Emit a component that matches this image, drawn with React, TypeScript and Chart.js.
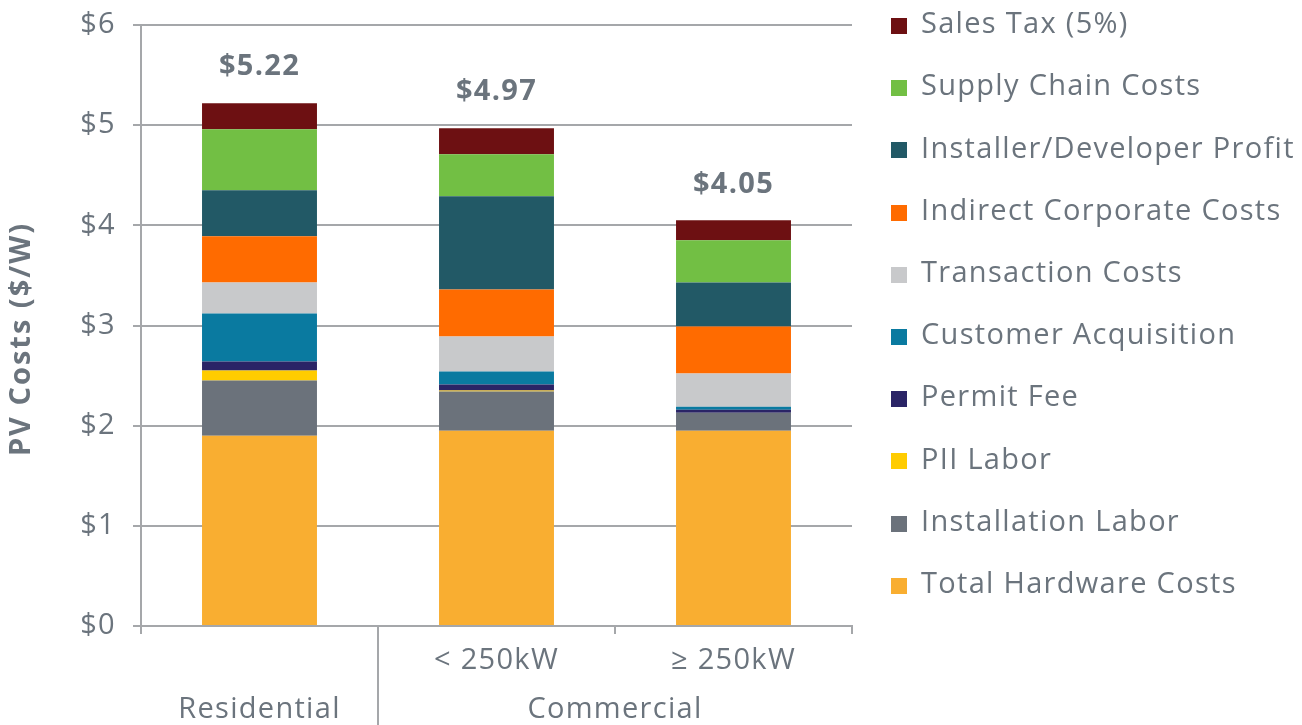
import React, { useEffect, useRef } from "react";
import { Chart, registerables } from "chart.js";

Chart.register(...registerables);

// ---- data ----
const subLabels = ["", "< 250kW", "≥ 250kW"];
const groupNames = ["Residential", "Commercial"];
const groupStart = [0, 1];
const groupEnd = [0, 2];
const yTickValues = [0, 1, 2, 3, 4, 5, 6];

const seriesNames = [
  "Total Hardware Costs",
  "Installation Labor",
  "PII Labor",
  "Permit Fee",
  "Customer Acquisition",
  "Transaction Costs",
  "Indirect Corporate Costs",
  "Installer/Developer Profit",
  "Supply Chain Costs",
  "Sales Tax (5%)",
];
const seriesColors = [
  "#F9AE31",
  "#6B727B",
  "#FFCC00",
  "#2A2466",
  "#0A7AA0",
  "#C8C9CB",
  "#FF6B00",
  "#225966",
  "#72BF44",
  "#6D1012",
];

const hardware = [1.9, 1.95, 1.95];
const installation = [0.55, 0.39, 0.18];
const piiLabor = [0.1, 0.01, 0.0];
const permitFee = [0.09, 0.06, 0.03];
const customerAcq = [0.48, 0.13, 0.03];
const transaction = [0.31, 0.35, 0.33];
const indirect = [0.46, 0.47, 0.47];
const profit = [0.46, 0.93, 0.44];
const supplyChain = [0.61, 0.42, 0.42];
const salesTax = [0.26, 0.26, 0.2];

const seriesValues = [
  hardware,
  installation,
  piiLabor,
  permitFee,
  customerAcq,
  transaction,
  indirect,
  profit,
  supplyChain,
  salesTax,
];

const FONT = "'Open Sans', sans-serif";
const TEXT = "#6B747D";
const GRID = "#A5A7AA";
const SPACING = "1.3px";

const spacingPlugin = {
  id: "spacing",
  beforeDraw(chart: any) {
    (chart.ctx as any).letterSpacing = SPACING;
  },
};

const decorPlugin = {
  id: "decor",
  afterDraw(chart: any) {
    const { ctx, chartArea, scales } = chart;
    const xs = scales.x;
    const ys = scales.y;
    const H = chart.height;
    ctx.save();
    (ctx as any).letterSpacing = SPACING;

    // group separators
    ctx.strokeStyle = GRID;
    ctx.lineWidth = 2;
    for (let g = 0; g < groupNames.length - 1; g++) {
      const xa = xs.getPixelForValue(groupEnd[g]);
      const xb = xs.getPixelForValue(groupStart[g + 1]);
      const x = Math.round((xa + xb) / 2);
      ctx.beginPath();
      ctx.moveTo(x, chartArea.bottom);
      ctx.lineTo(x, H);
      ctx.stroke();
    }

    // group labels
    ctx.fillStyle = TEXT;
    ctx.font = `29px ${FONT}`;
    ctx.textAlign = "center";
    ctx.textBaseline = "middle";
    for (let g = 0; g < groupNames.length; g++) {
      const x = (xs.getPixelForValue(groupStart[g]) + xs.getPixelForValue(groupEnd[g])) / 2;
      ctx.fillText(groupNames[g], x, 710);
    }

    // totals
    ctx.font = `bold 29px ${FONT}`;
    for (let i = 0; i < subLabels.length; i++) {
      let total = 0;
      seriesValues.forEach((s) => (total += s[i]));
      const y = ys.getPixelForValue(total) - 36;
      ctx.fillText("$" + total.toFixed(2), xs.getPixelForValue(i), y);
    }

    // y title
    ctx.save();
    ctx.translate(22, 339);
    ctx.rotate(-Math.PI / 2);
    (ctx as any).letterSpacing = "2px";
    ctx.font = `bold 29px ${FONT}`;
    ctx.fillText("PV Costs ($/W)", 0, 0);
    ctx.restore();

    // legend (reversed)
    ctx.textAlign = "left";
    ctx.font = `29px ${FONT}`;
    const n = seriesNames.length;
    for (let k = 0; k < n; k++) {
      const idx = n - 1 - k;
      const cy = 26 + k * 62.2;
      ctx.fillStyle = seriesColors[idx];
      ctx.fillRect(891, Math.round(cy - 8), 16, 16);
      ctx.fillStyle = TEXT;
      ctx.fillText(seriesNames[idx], 921, cy - 1);
    }
    ctx.restore();
  },
};

export default function App() {
  const ref = useRef<HTMLCanvasElement>(null);
  useEffect(() => {
    if (!ref.current) return;
    const chart = new Chart(ref.current, {
      type: "bar",
      data: {
        labels: subLabels,
        datasets: seriesNames.map((name, i) => ({
          label: name,
          data: seriesValues[i],
          backgroundColor: seriesColors[i],
          borderWidth: 0,
          categoryPercentage: 1,
          barPercentage: 0.485,
        })),
      },
      options: {
        animation: false,
        responsive: false,
        layout: { padding: { top: 25, right: 450, bottom: 0, left: 0 } },
        plugins: { legend: { display: false }, tooltip: { enabled: false } },
        scales: {
          x: {
            stacked: true,
            offset: true,
            grid: {
              offset: true,
              drawOnChartArea: false,
              tickLength: 8,
              color: GRID,
              lineWidth: 2,
            },
            border: { color: GRID, width: 2 },
            ticks: {
              font: { family: FONT, size: 29 },
              color: TEXT,
              padding: 9,
              maxRotation: 0,
              autoSkip: false,
            },
            afterFit: (s: any) => {
              s.height = 99;
            },
          },
          y: {
            stacked: true,
            min: 0,
            max: 6,
            afterBuildTicks: (s: any) => {
              s.ticks = yTickValues.map((v) => ({ value: v }));
            },
            ticks: {
              stepSize: 1,
              callback: (v: any) => "$" + v,
              font: { family: FONT, size: 29, lineHeight: 0.5 },
              color: TEXT,
              padding: 17,
            },
            grid: { color: GRID, lineWidth: 2, tickLength: 8 },
            border: { color: GRID, width: 2 },
            afterFit: (s: any) => {
              s.width = 141;
            },
          },
        },
      },
      plugins: [spacingPlugin, decorPlugin],
    });
    return () => chart.destroy();
  }, []);
  return (
    <div style={{ position: "fixed", left: 0, top: 0, width: 1302, height: 725 }}>
      <canvas ref={ref} width={1302} height={725} style={{ display: "block" }} />
    </div>
  );
}
